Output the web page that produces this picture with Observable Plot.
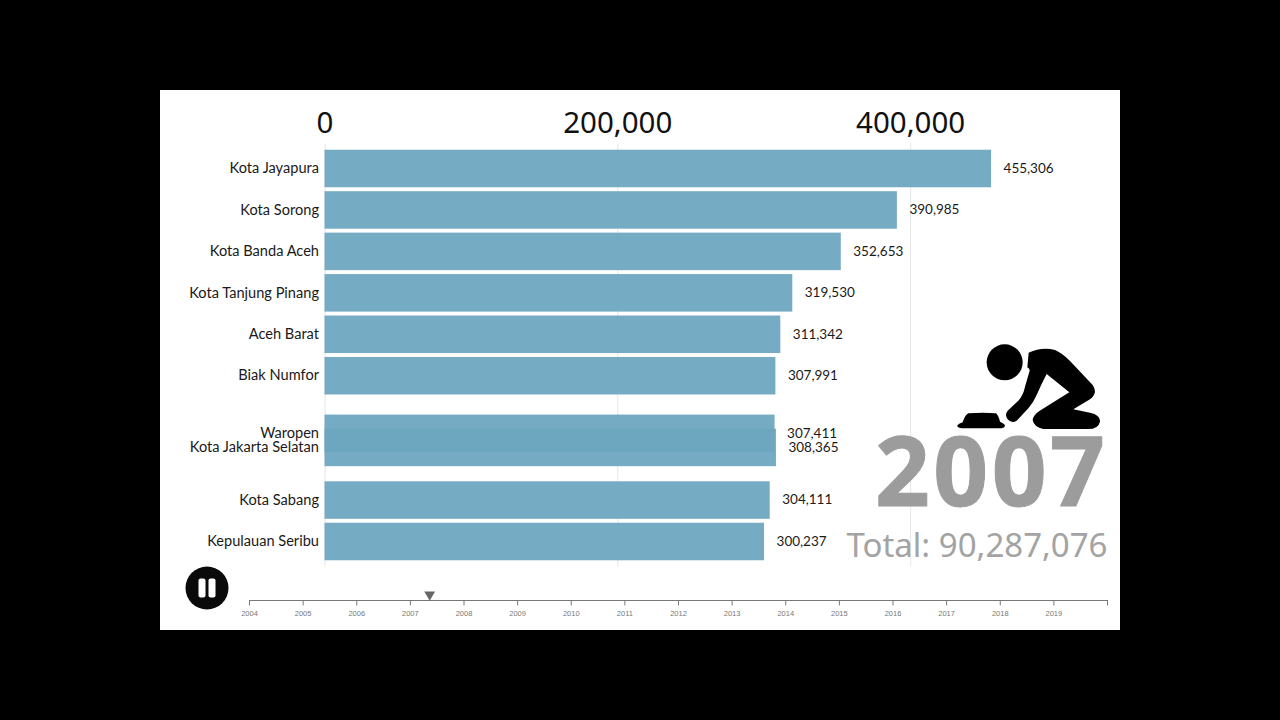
<!DOCTYPE html>
<html><head><meta charset="utf-8">
<script src="https://cdn.jsdelivr.net/npm/d3@7"></script>
<script src="https://cdn.jsdelivr.net/npm/@observablehq/plot@0.6"></script>
<style>
html,body{margin:0;padding:0;background:#000;width:1280px;height:720px;overflow:hidden}
#panel{position:absolute;left:160px;top:90px;width:960px;height:540px;background:#fff;overflow:hidden}
#panel>svg,#panel>div{position:absolute}
</style></head><body>
<div id="panel"></div>
<script>
const regions = ["Kota Jayapura","Kota Sorong","Kota Banda Aceh","Kota Tanjung Pinang","Aceh Barat","Biak Numfor","Waropen","Kota Jakarta Selatan","Kota Sabang","Kepulauan Seribu"];
const populations = [455306,390985,352653,319530,311342,307991,307411,308365,304111,300237];
const ranks = [0,1,2,3,4,5,6.39,6.73,8,9];
const axisTicks = [0,200000,400000];
const gridTicks = [0,200000,400000];
const years = [2004,2005,2006,2007,2008,2009,2010,2011,2012,2013,2014,2015,2016,2017,2018,2019];
const timelineEnd = 2020;
const currentTime = 2007.36;
const yearLabel = "2007";
const totalLabel = "Total: 90,287,076";

const rows = regions.map((name,i)=>({name,value:populations[i],rank:ranks[i]}));
const panel = document.getElementById("panel");
const fmt = d3.format(",");
const half = 0.4525;

const main = Plot.plot({
  width:960,height:540,margin:0,marginTop:46,
  style:{background:"transparent",overflow:"visible"},
  x:{domain:[0,500000],range:[164.5,896.5],axis:null},
  y:{domain:[0,9],range:[78.5,451.5],axis:null},
  marks:[
    Plot.ruleX(gridTicks,{y1:-0.6,y2:9.6,stroke:"#e6e6e6",strokeWidth:1}),
    Plot.axisX(axisTicks,{anchor:"top",tickSize:0,tickPadding:4,tickFormat:fmt,fontSize:29.5,
      fontFamily:"'Noto Sans'",fill:"#111",label:null}),
    Plot.rectX(rows,{x1:0,x2:"value",y1:d=>d.rank-half,y2:d=>d.rank+half,fill:"#6ba5bf",fillOpacity:0.935,inset:0}),
    Plot.text(rows,{x:0,y:"rank",text:"name",textAnchor:"end",dx:-6,dy:-0.5,fontSize:14.6,fontFamily:"Lato",fill:"#1a1a1a"}),
    Plot.text(rows,{x:"value",y:"rank",text:d=>fmt(d.value),textAnchor:"start",dx:12,dy:-0.5,fontSize:13.5,fontFamily:"Lato",fill:"#1a1a1a"}),
    Plot.text([yearLabel],{frameAnchor:"bottom-right",dx:-12,dy:-125,fontSize:96,fontWeight:700,fontFamily:"'Open Sans'",fill:"#9c9c9c",stroke:"#9c9c9c",strokeWidth:1,textAnchor:"end",lineAnchor:"bottom"}),
    Plot.text([totalLabel],{frameAnchor:"bottom-right",dx:-13,dy:-74,fontSize:33,fontFamily:"'Noto Sans'",fill:"#a3a3a3",textAnchor:"end",lineAnchor:"bottom"})
  ]
});
main.style.left="0";main.style.top="0";
main.querySelectorAll("text").forEach(t=>{ if(t.textContent===yearLabel) t.style.letterSpacing="3.5px"; });
panel.appendChild(main);

const slider = Plot.plot({
  width:960,height:60,margin:0,
  style:{background:"transparent",overflow:"visible"},
  x:{domain:[2004,2020],range:[89,947],axis:null},
  y:{domain:[0,1],range:[60,0],axis:null},
  marks:[
    Plot.ruleY([0.5],{x1:2004,x2:timelineEnd,stroke:"#777",strokeWidth:1.2}),
    Plot.ruleX([...years,timelineEnd],{y1:0.5,y2:0.41,stroke:"#777",strokeWidth:1}),
    Plot.text(years,{x:d=>d,y:0.28,text:d=>String(d),fontSize:7.5,fontFamily:"Liberation Sans",fill:"#777"}),
    Plot.dot([currentTime],{x:d=>d,y:0.6,symbol:"triangle",r:4,rotate:180,fill:"#666",stroke:"none"})
  ]
});
slider.style.left="0";slider.style.top="480px";
panel.appendChild(slider);

panel.insertAdjacentHTML("beforeend",`
<svg style="left:680px;top:240px" width="280" height="240" viewBox="0 0 840 720" aria-hidden="true">
  <circle cx="494" cy="97" r="54" fill="#000"/>
  <path fill="#000" d="M566 68 Q605 50 645 60 Q668 70 690 93 L758 165 Q775 190 750 208 L700 238 L750 248 Q782 255 780 275 Q775 297 745 297 L610 297 Q582 292 578 270 Q580 255 598 243 L688 187 L620 132 Q605 160 590 195 Q580 218 565 235 L530 272 Q515 282 503 268 Q493 255 503 242 L535 212 Q550 195 555 170 L568 125 Q572 118 562 112 Z"/>
  <path fill="#000" d="M385 250 Q430 246 468 250 Q475 255 480 275 Q496 282 495 288 Q492 295 480 295 L365 295 Q350 293 352 286 Q358 280 368 277 Q375 255 385 250 Z"/>
</svg>
<svg style="left:25px;top:476px" width="44" height="44" viewBox="0 0 44 44" aria-hidden="true">
  <circle cx="22" cy="22" r="21.5" fill="#0a0a0a"/>
  <rect x="13.5" y="12.5" width="7" height="19" rx="2" fill="#fff"/>
  <rect x="23.5" y="12.5" width="7" height="19" rx="2" fill="#fff"/>
</svg>`);
</script>
</body></html>
